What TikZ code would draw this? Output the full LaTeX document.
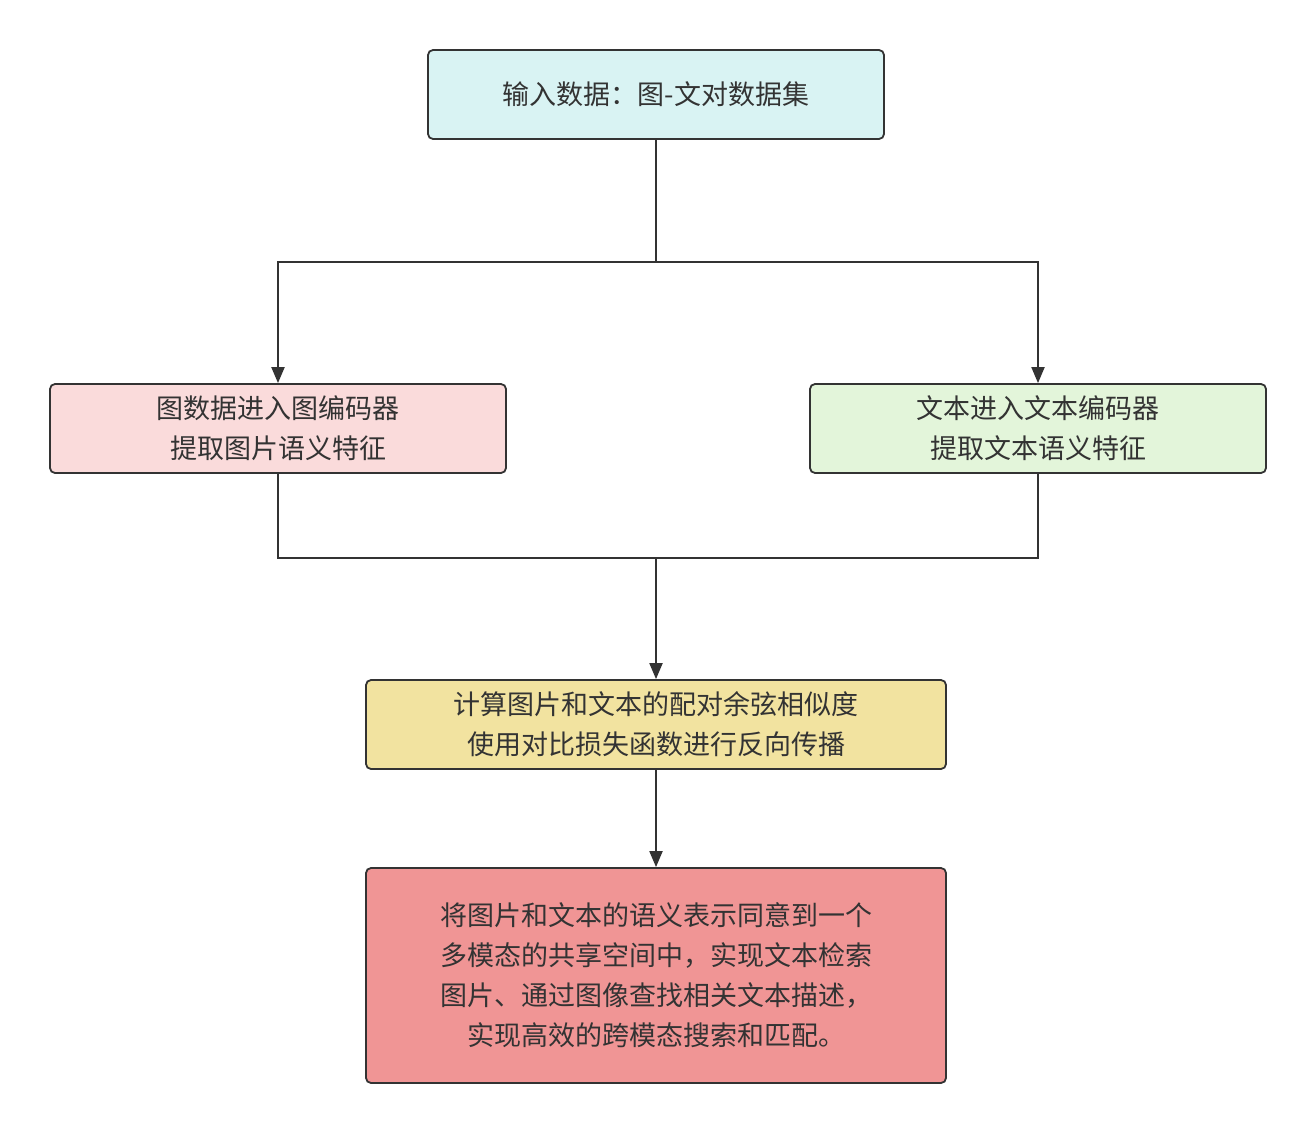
\documentclass[tikz,border=0pt]{standalone}
\usepackage{fontspec}
\newfontfamily\cjk{Noto Sans CJK SC}
\usetikzlibrary{arrows.meta}
\definecolor{ln}{HTML}{333333}
\definecolor{ca}{HTML}{D9F3F3}
\definecolor{cb}{HTML}{FADBDB}
\definecolor{cc}{HTML}{E3F5DA}
\definecolor{cd}{HTML}{F2E3A0}
\definecolor{ce}{HTML}{F09595}
\tikzset{box/.style={draw=ln,line width=1.8pt,rounded corners=5pt,text=ln,align=center,font=\cjk\fontsize{27}{40}\selectfont,inner sep=0pt},
conn/.style={draw=ln,line width=2pt},
arr/.style={conn,-{Triangle[length=16pt,width=13pt]}}}
\begin{document}
\begin{tikzpicture}[x=1pt,y=-1pt]
\useasboundingbox (0,0) rectangle (1316,1134);
\node[box,fill=ca,minimum width=456pt,minimum height=89pt] (a) at (656,94.5) {输入数据：图-文对数据集};
\node[box,fill=cb,minimum width=456pt,minimum height=89pt] (b) at (278,428.5) {图数据进入图编码器\\提取图片语义特征};
\node[box,fill=cc,minimum width=456pt,minimum height=89pt] (c) at (1038,428.5) {文本进入文本编码器\\提取文本语义特征};
\node[box,fill=cd,minimum width=580pt,minimum height=89pt] (d) at (656,724.5) {计算图片和文本的配对余弦相似度\\使用对比损失函数进行反向传播};
\node[box,fill=ce,minimum width=580pt,minimum height=215pt] (e) at (656,975.5) {将图片和文本的语义表示同意到一个\\多模态的共享空间中，实现文本检索\\图片、通过图像查找相关文本描述，\\实现高效的跨模态搜索和匹配。};
\coordinate (s) at (656,262);
\coordinate (j) at (656,558);
\draw[conn] (a.south) -- (s);
\draw[arr] (s) -| (b.north);
\draw[arr] (s) -| (c.north);
\draw[conn] (b.south) |- (j);
\draw[conn] (c.south) |- (j);
\draw[arr] (j) -- (d.north);
\draw[arr] (d.south) -- (e.north);
\end{tikzpicture}
\end{document}
